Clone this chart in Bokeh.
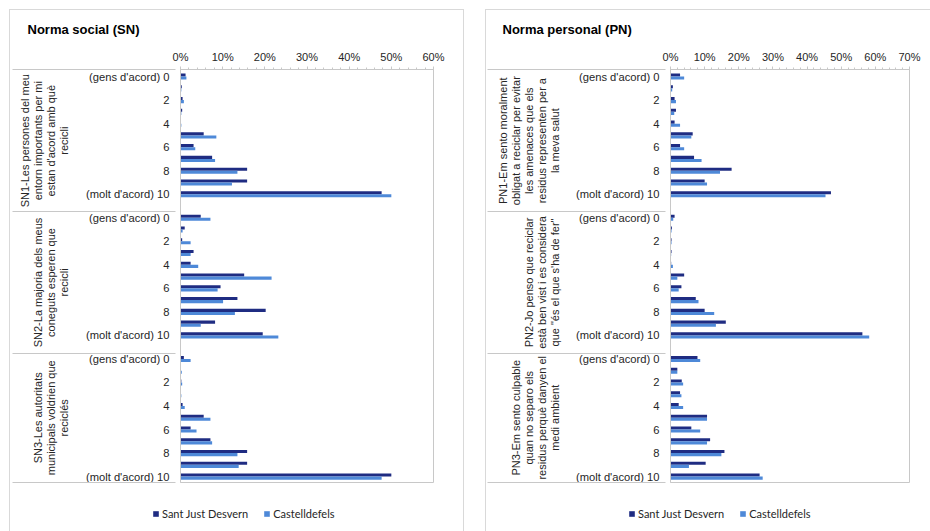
from bokeh.plotting import figure
from bokeh.models import (Range1d, FixedTicker, SingleIntervalTicker, PrintfTickFormatter,
                          LinearAxis, Legend, LegendItem, ColumnDataSource)
from bokeh.layouts import row, column
from bokeh.embed import file_html
from bokeh.resources import INLINE

# ---------------- data ----------------
categories = ["(gens d'acord) 0", "1", "2", "3", "4", "5", "6", "7", "8", "9", "(molt d'acord) 10"]
series_names = ["Sant Just Desvern", "Castelldefels"]

sn_title = "Norma social (SN)"
sn_groups = [
    "SN1-Les persones del meu\nentorn importants per mi\nestan d'acord amb què\nrecicli",
    "SN2-La majoria dels meus\nconeguts esperen que\nrecicli",
    "SN3-Les autoritats\nmunicipals voldrien que\nreciclés",
]
sn1_sant_just = [1.2, 0.3, 0.5, 0.4, 0.1, 5.5, 3.1, 7.5, 15.8, 15.8, 47.7]
sn1_castelldefels = [1.4, 0.2, 0.8, 0.2, 0.2, 8.5, 3.5, 8.2, 13.5, 12.2, 50.0]
sn2_sant_just = [4.8, 1.0, 0.4, 3.1, 2.4, 15.1, 9.5, 13.5, 20.2, 8.2, 19.5]
sn2_castelldefels = [7.1, 0.5, 2.4, 2.4, 4.2, 21.6, 8.8, 10.1, 12.9, 4.8, 23.2]
sn3_sant_just = [0.8, 0.1, 0.2, 0.1, 0.5, 5.5, 2.4, 7.1, 15.8, 15.8, 50.0]
sn3_castelldefels = [2.4, 0.3, 0.4, 0.2, 1.0, 7.1, 3.8, 7.5, 13.5, 13.8, 47.7]

pn_title = "Norma personal (PN)"
pn_groups = [
    "PN1-Em sento moralment\nobligat a reciclar per evitar\nles amenaces que els\nresidus representen per a\nla meva salut",
    "PN2-Jo penso que reciclar\nestà ben vist i es considera\nque \"és el que s'ha de fer\"",
    "PN3-Em sento culpable\nquan no separo els\nresidus perquè danyen el\nmedi ambient",
]
pn1_sant_just = [2.8, 0.7, 1.2, 1.6, 1.2, 6.5, 2.8, 6.9, 17.9, 10.0, 47.0]
pn1_castelldefels = [4.0, 0.5, 1.6, 1.1, 2.8, 6.1, 4.0, 9.1, 14.5, 10.7, 45.4]
pn2_sant_just = [1.2, 0.4, 0.3, 0.3, 0.2, 4.0, 3.2, 7.4, 10.0, 16.2, 56.2]
pn2_castelldefels = [0.8, 0.3, 0.3, 0.2, 0.7, 2.0, 2.4, 8.2, 12.8, 13.3, 58.2]
pn3_sant_just = [7.9, 2.0, 3.3, 2.8, 2.4, 10.7, 6.1, 11.6, 15.8, 10.3, 26.1]
pn3_castelldefels = [8.7, 2.0, 3.7, 3.2, 3.7, 10.7, 8.7, 10.7, 14.9, 5.4, 27.0]

# ---------------- style ----------------
DARK = "#1F2C82"
LIGHT = "#4E89D8"
GRID = "#c8c8c8"
BOX = "#d9d9d9"
TXT = "#262626"
FONT = "Liberation Sans"

MAIN_H = 497
LEG_H = 34
FRAME_TOP = 69
FRAME_H = 413


def box_css(lines):
    parts = []
    for (x, y, w, h) in lines:
        parts.append(f"linear-gradient({BOX},{BOX}) {x}px {y}px / {w}px {h} no-repeat")
    return {"background": ", ".join(parts)}


def make_panel(title, group_texts, sj_groups, cd_groups, xmax, width,
               frame_left, frame_width, group_standoff, sep_in, sep_out, title_dx, box_lines):
    n = len(categories)
    slot = n + 1
    ys, sj, cd = [], [], []
    for g in range(len(group_texts)):
        for c in range(n):
            ys.append(g * slot + c)
            sj.append(sj_groups[g][c])
            cd.append(cd_groups[g][c])
    y_top = -0.6
    y_bottom = (len(group_texts) - 1) * slot + n - 1 + 0.5

    p = figure(width=width, height=MAIN_H, output_backend="svg", toolbar_location=None,
               x_range=Range1d(0, xmax), y_range=Range1d(y_bottom, y_top),
               x_axis_location="above",
               min_border_left=frame_left, min_border_right=width - frame_left - frame_width,
               min_border_top=FRAME_TOP, min_border_bottom=MAIN_H - FRAME_TOP - FRAME_H)
    p.xgrid.visible = False
    p.ygrid.visible = False
    p.outline_line_color = GRID
    p.border_fill_alpha = 0
    p.background_fill_color = "white"
    p.styles = box_css(box_lines)

    src = ColumnDataSource(dict(y_sj=[y - 0.13 for y in ys], y_cd=[y + 0.13 for y in ys], sj=sj, cd=cd))
    p.hbar(y="y_sj", right="sj", left=0, height=0.26, source=src, fill_color=DARK, line_color=None)
    p.hbar(y="y_cd", right="cd", left=0, height=0.26, source=src, fill_color=LIGHT, line_color=None)

    xa = p.xaxis[0]
    xa.ticker = SingleIntervalTicker(interval=10, num_minor_ticks=5)
    xa.formatter = PrintfTickFormatter(format="%d%%")
    xa.axis_line_color = GRID
    xa.major_tick_line_color = GRID
    xa.minor_tick_line_color = GRID
    xa.major_tick_out = 3
    xa.major_tick_in = 0
    xa.minor_tick_out = 2
    xa.minor_tick_in = 0
    xa.major_label_standoff = 4
    xa.major_label_text_font = FONT
    xa.major_label_text_font_size = "11px"
    xa.major_label_text_color = TXT

    ya = p.yaxis[0]
    major = []
    overrides = {}
    for g in range(len(group_texts)):
        for c in range(0, n, 2):
            pos = g * slot + c
            major.append(pos)
            overrides[pos] = categories[c]
    ya.ticker = FixedTicker(ticks=major)
    ya.major_label_overrides = overrides
    ya.axis_line_color = GRID
    ya.major_tick_line_color = None
    ya.minor_tick_line_color = None
    ya.major_tick_out = 0
    ya.major_tick_in = 0
    ya.major_label_standoff = 11
    ya.major_label_text_font = FONT
    ya.major_label_text_font_size = "11.2px"
    ya.major_label_text_color = TXT

    boundaries = [y_top] + [g * slot - 0.5 for g in range(1, len(group_texts))] + [y_bottom]
    centers = [(boundaries[g] + boundaries[g + 1]) / 2 for g in range(len(group_texts))]
    ga = LinearAxis(ticker=FixedTicker(ticks=centers),
                    major_label_overrides={c: t for c, t in zip(centers, group_texts)},
                    major_label_orientation="vertical",
                    axis_line_color=None, major_tick_line_color=None, minor_tick_line_color=None,
                    major_tick_out=0, major_tick_in=0, major_label_standoff=group_standoff,
                    major_label_text_font=FONT, major_label_text_font_size="11px",
                    major_label_text_line_height=1.1,
                    major_label_text_color=TXT)
    p.add_layout(ga, "left")
    sa = LinearAxis(ticker=FixedTicker(ticks=boundaries),
                    major_label_overrides={b: "" for b in boundaries},
                    axis_line_color=None, major_tick_line_color=GRID, minor_tick_line_color=None,
                    major_tick_out=sep_out, major_tick_in=sep_in, major_label_standoff=0,
                    major_label_text_font_size="1px")
    p.add_layout(sa, "left")

    p.title.text = title
    p.title.align = "left"
    p.title.offset = title_dx
    p.title.standoff = 21
    p.title.text_font = FONT
    p.title.text_font_size = "13px"
    p.title.text_font_style = "bold"
    p.title.text_color = "black"
    return p, src


def make_legend_strip(width, legend_x, src, box_lines):
    # the strip shares the panel's data source; its y range lies away from the
    # bars, so only the legend is visible here
    s = figure(width=width, height=LEG_H, output_backend="svg", toolbar_location=None,
               x_range=Range1d(0, width), y_range=Range1d(1000, 1000 + LEG_H),
               x_axis_type=None, y_axis_type=None, min_border=0)
    s.grid.visible = False
    s.outline_line_color = None
    s.border_fill_alpha = 0
    s.background_fill_alpha = 0
    s.styles = box_css(box_lines)
    k1 = s.hbar(y="y_sj", right="sj", left=0, height=0.26, source=src, fill_color=DARK, line_color=None)
    k2 = s.hbar(y="y_cd", right="cd", left=0, height=0.26, source=src, fill_color=LIGHT, line_color=None)
    legend = Legend(items=[LegendItem(label=series_names[0], renderers=[k1]),
                           LegendItem(label=series_names[1], renderers=[k2])],
                    location=(legend_x, 11), orientation="horizontal",
                    glyph_width=7, glyph_height=7, label_standoff=3, spacing=15,
                    padding=0, margin=0, border_line_color=None, background_fill_alpha=0,
                    label_text_font="Lato", label_text_font_size="11px", label_text_color=TXT,
                    label_height=12)
    s.add_layout(legend)
    return s


LEFT_W, RIGHT_W = 474, 456

p1, src1 = make_panel(sn_title, sn_groups,
                      [sn1_sant_just, sn2_sant_just, sn3_sant_just],
                      [sn1_castelldefels, sn2_castelldefels, sn3_castelldefels],
                      60, LEFT_W, 180, 253, 12, 160, 3, -153,
                      [(9, 9, 1, "100%"), (9, 9, 455, "1px"), (463, 9, 1, "100%")])
p2, src2 = make_panel(pn_title, pn_groups,
                      [pn1_sant_just, pn2_sant_just, pn3_sant_just],
                      [pn1_castelldefels, pn2_castelldefels, pn3_castelldefels],
                      70, RIGHT_W, 196, 239, 11, 172, 6, -168,
                      [(11, 9, 1, "100%"), (11, 9, 450, "1px")])
l1 = make_legend_strip(LEFT_W, 152, src1, [(9, 0, 1, "100%"), (463, 0, 1, "100%")])
l2 = make_legend_strip(RIGHT_W, 154, src2, [(11, 0, 1, "100%")])

layout = column(row(p1, p2), row(l1, l2))
open("out.html", "w").write(file_html(layout, INLINE))
